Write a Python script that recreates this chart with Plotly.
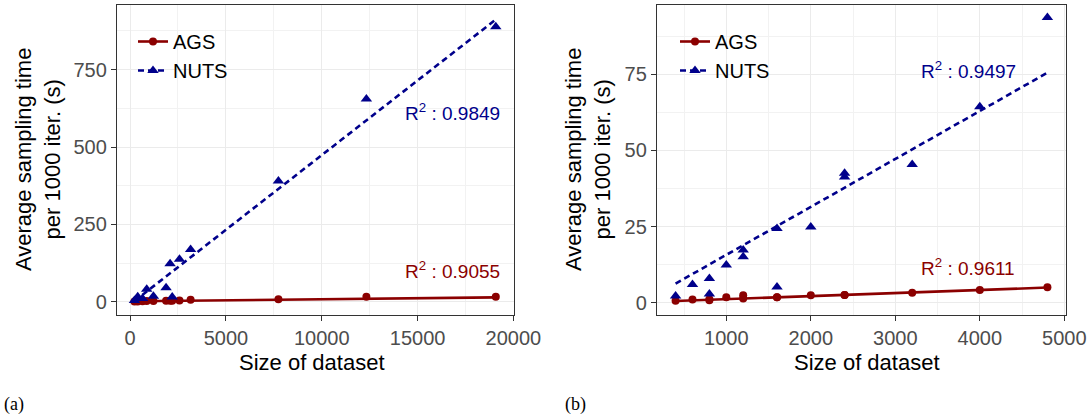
import numpy as np
import plotly.graph_objects as go

# ---------------- data ----------------
sizes_a = [230, 400, 650, 870, 1220, 1880, 2090, 2200, 2580, 3160, 7740, 12330, 19080]
nuts_a = [4, 16, 10, 40, 18, 45, 123, 15, 137, 169, 390, 655, 889]
ags_a = [1, 1, 1.5, 2, 2, 3, 3, 3, 4, 6, 8, 16, 16]

sizes_b = [400, 600, 800, 800, 1000, 1200, 1200, 1600, 1600, 2000, 2400, 2400, 3200, 4000, 4800]
nuts_b = [2.2, 6.0, 8.0, 2.9, 12.4, 17.3, 15.1, 24.4, 5.2, 24.9, 42.5, 41.3, 45.4, 64.3, 93.6]
ags_b = [0.7, 1.1, 1.2, 0.8, 1.8, 2.5, 1.4, 1.8, 1.8, 2.5, 2.6, 2.6, 3.3, 4.2, 5.1]

# fitted-line values at the smallest and largest dataset size
fit_a = {"AGS": [1.5, 14.0], "NUTS": [2.0, 912.0]}
fit_b = {"AGS": [0.6, 5.0], "NUTS": [6.3, 75.5]}

r2_a = {"AGS": "0.9055", "NUTS": "0.9849"}
r2_b = {"AGS": "0.9611", "NUTS": "0.9497"}

xticks_a = [0, 5000, 10000, 15000, 20000]
yticks_a = [0, 250, 500, 750]
xticks_b = [1000, 2000, 3000, 4000, 5000]
yticks_b = [0, 25, 50, 75]

RED = "#8B0000"
BLUE = "#00008B"
W, H = 1092, 419
FONT = "Arial"

fig = go.Figure()


def add_panel(xs, ags, nuts, fits, xa, ya, legend):
    xs = np.asarray(xs, float)
    for name, ys, color, dash, symbol, msize in [
        ("AGS", ags, RED, "solid", "circle", 8),
        ("NUTS", nuts, BLUE, "6px,4px", "triangle-up", 10),
    ]:
        fig.add_trace(go.Scatter(
            x=[xs.min(), xs.max()], y=fits[name], mode="lines", xaxis=xa, yaxis=ya,
            line=dict(color=color, width=2.6, dash=dash),
            showlegend=False, hoverinfo="skip", legend=legend,
        ))
        fig.add_trace(go.Scatter(
            x=xs, y=ys, mode="markers", xaxis=xa, yaxis=ya, name=name,
            marker=dict(color=color, symbol=symbol, size=msize, line=dict(width=0)),
            showlegend=False, legend=legend,
        ))
        fig.add_trace(go.Scatter(
            x=[None], y=[None], mode="lines+markers", xaxis=xa, yaxis=ya, name=name,
            line=dict(color=color, width=2.6, dash=dash),
            marker=dict(color=color, symbol=symbol, size=msize),
            legend=legend, showlegend=True,
        ))


add_panel(sizes_a, ags_a, nuts_a, fit_a, "x", "y", "legend")
add_panel(sizes_b, ags_b, nuts_b, fit_b, "x2", "y2", "legend2")

ydom = [1 - 315 / H, 1 - 5 / H]


def axis(**kw):
    d = dict(
        automargin=False,
        showline=True, mirror=True, linecolor="#333333", linewidth=1.3,
        showgrid=True, gridcolor="#EBEBEB", gridwidth=1.2, zeroline=False,
        ticks="outside", ticklen=5, tickwidth=1.1, tickcolor="#333333",
        tickformat="d",
        tickfont=dict(family=FONT, size=20, color="#4D4D4D"),
    )
    d.update(kw)
    return d


fig.update_layout(
    width=W, height=H, margin=dict(l=0, r=0, t=0, b=0, autoexpand=False),
    paper_bgcolor="white", plot_bgcolor="white",
    font=dict(family=FONT, color="black"),
    xaxis=axis(domain=[117 / W, 514 / W], range=[-680, 20030], tickvals=xticks_a, anchor="y",
               minor=dict(showgrid=True, gridcolor="#F2F2F2", gridwidth=0.7, dtick=2500, tick0=0)),
    yaxis=axis(domain=ydom, range=[-43, 959], tickvals=yticks_a, anchor="x",
               minor=dict(showgrid=True, gridcolor="#F2F2F2", gridwidth=0.7, dtick=125, tick0=0)),
    xaxis2=axis(domain=[657 / W, 1066 / W], range=[180, 5020], tickvals=xticks_b, anchor="y2",
                minor=dict(showgrid=True, gridcolor="#F2F2F2", gridwidth=0.7, dtick=500, tick0=0)),
    yaxis2=axis(domain=ydom, range=[-4.0, 97.7], tickvals=yticks_b, anchor="x2",
                minor=dict(showgrid=True, gridcolor="#F2F2F2", gridwidth=0.7, dtick=12.5, tick0=0)),
    legend=dict(x=133 / W, y=1 - 22 / H, xanchor="left", yanchor="top",
                bgcolor="rgba(0,0,0,0)", font=dict(family=FONT, size=20, color="black"),
                itemwidth=30, tracegroupgap=0),
    legend2=dict(x=675 / W, y=1 - 22 / H, xanchor="left", yanchor="top",
                 bgcolor="rgba(0,0,0,0)", font=dict(family=FONT, size=20, color="black"),
                 itemwidth=30, tracegroupgap=0),
)

ann = []
title_font = dict(family=FONT, size=22, color="black")
for cx in [312, 867]:
    ann.append(dict(text="Size of dataset", x=cx / W, y=1 - 362 / H, xref="paper", yref="paper",
                    xanchor="center", yanchor="middle", showarrow=False, font=title_font))
for cx in [38, 588]:
    ann.append(dict(text="Average sampling time<br>per 1000 iter. (s)", x=cx / W, y=1 - 160 / H,
                    xref="paper", yref="paper", xanchor="center", yanchor="middle",
                    textangle=-90, showarrow=False, font=title_font))
for txt, color, xr, yc in [
    (r2_a["NUTS"], BLUE, 502, 112), (r2_a["AGS"], RED, 502, 270),
    (r2_b["NUTS"], BLUE, 1018, 70), (r2_b["AGS"], RED, 1017, 267),
]:
    ann.append(dict(text="R<sup>2</sup> : " + txt, x=xr / W, y=1 - yc / H, xref="paper", yref="paper",
                    xanchor="right", yanchor="middle", showarrow=False,
                    font=dict(family=FONT, size=19, color=color)))
for txt, xl in [("(a)", 2), ("(b)", 563)]:
    ann.append(dict(text=txt, x=xl / W, y=1 - 404 / H, xref="paper", yref="paper",
                    xanchor="left", yanchor="middle", showarrow=False,
                    font=dict(family="Liberation Serif", size=18, color="black")))
fig.update_layout(annotations=ann)

fig.write_html(
    "out.html",
    config={"displayModeBar": False},
    post_script="document.body.style.margin='0';document.body.style.overflow='hidden';",
)
